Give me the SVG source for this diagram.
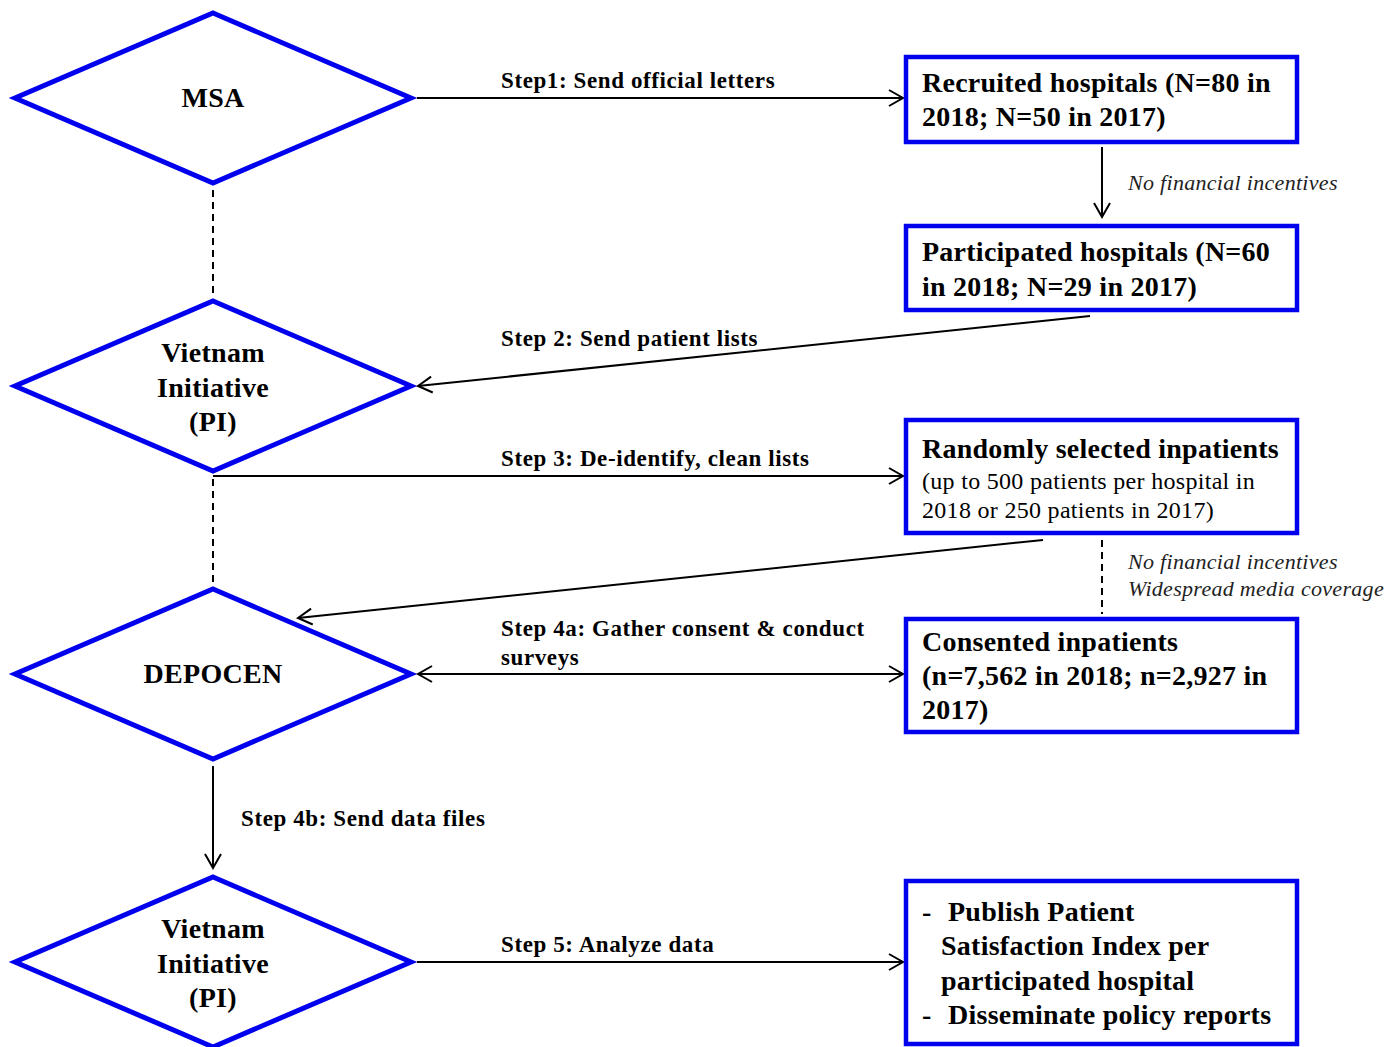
<svg xmlns="http://www.w3.org/2000/svg" width="1400" height="1047" viewBox="0 0 1400 1047">
<style>
.dia{fill:#fff;stroke:#0000ee;stroke-width:5;stroke-linejoin:miter}
.box{fill:#fff;stroke:#0000ee;stroke-width:4.5}
.t{font-family:"Liberation Serif","Times New Roman",serif;font-weight:bold;fill:#000}
.nt{font-size:28px;letter-spacing:0.25px}
.dt{font-size:28px;letter-spacing:0.3px;text-anchor:middle}
.st{font-size:23px;letter-spacing:0.6px}
.rg{font-family:"Liberation Serif","Times New Roman",serif;font-size:24px;letter-spacing:0.3px;fill:#000}
.it{font-family:"Liberation Serif","Times New Roman",serif;font-style:italic;font-size:22px;letter-spacing:0.3px;fill:#222}
.ln{stroke:#000;stroke-width:2;fill:none}
.ds{stroke:#000;stroke-width:2;fill:none;stroke-dasharray:7,5}
</style>
<defs>
<marker id="ah" viewBox="0 0 20 20" refX="18" refY="10" markerWidth="20" markerHeight="20" markerUnits="userSpaceOnUse" orient="auto-start-reverse">
<path d="M4,2 L18,10 L4,18" fill="none" stroke="#000" stroke-width="2"/>
</marker>
</defs>
<rect width="1400" height="1047" fill="#fff"/>
<g id="connectors">
<line class="ln" x1="417" y1="98" x2="903" y2="98" marker-end="url(#ah)"/>
<line class="ln" x1="1102" y1="147" x2="1102" y2="217" marker-end="url(#ah)"/>
<line class="ds" x1="213" y1="190" x2="213" y2="298"/>
<line class="ln" x1="1090" y1="316" x2="418" y2="386" marker-end="url(#ah)"/>
<line class="ln" x1="213" y1="476" x2="903" y2="476" marker-end="url(#ah)"/>
<line class="ds" x1="213" y1="479" x2="213" y2="585"/>
<line class="ln" x1="1043" y1="540" x2="298" y2="618" marker-end="url(#ah)"/>
<line class="ds" x1="1102" y1="540" x2="1102" y2="614"/>
<line class="ln" x1="418" y1="674" x2="903" y2="674" marker-start="url(#ah)" marker-end="url(#ah)"/>
<line class="ln" x1="213" y1="766" x2="213" y2="868" marker-end="url(#ah)"/>
<line class="ln" x1="417" y1="962" x2="903" y2="962" marker-end="url(#ah)"/>
<text class="t st" x="501" y="88">Step1: Send official letters</text>
<text class="it" x="1128" y="190">No financial incentives</text>
<text class="t st" x="501" y="346">Step 2: Send patient lists</text>
<text class="t st" x="501" y="466">Step 3: De-identify, clean lists</text>
<text class="it" x="1128" y="569">No financial incentives</text>
<text class="it" x="1128" y="596">Widespread media coverage</text>
<text class="t st" x="501" y="636">Step 4a: Gather consent &amp; conduct</text>
<text class="t st" x="501" y="665">surveys</text>
<text class="t st" x="241" y="826">Step 4b: Send data files</text>
<text class="t st" x="501" y="952">Step 5: Analyze data</text>
</g>
<g id="msa">
<polygon class="dia" points="213,13 411,98 213,183 15,98"/>
<text class="t dt" x="213" y="107">MSA</text>
</g>
<g id="vi1">
<polygon class="dia" points="213,301 411,386 213,471 15,386"/>
<text class="t dt" x="213" y="362">Vietnam</text>
<text class="t dt" x="213" y="397">Initiative</text>
<text class="t dt" x="213" y="431">(PI)</text>
</g>
<g id="depocen">
<polygon class="dia" points="213,589 411,674 213,759 15,674"/>
<text class="t dt" x="213" y="683">DEPOCEN</text>
</g>
<g id="vi2">
<polygon class="dia" points="213,877 411,962 213,1047 15,962"/>
<text class="t dt" x="213" y="938">Vietnam</text>
<text class="t dt" x="213" y="973">Initiative</text>
<text class="t dt" x="213" y="1007">(PI)</text>
</g>
<g id="recruited">
<rect class="box" x="906" y="57" width="391" height="85"/>
<text class="t nt" x="922" y="92">Recruited hospitals (N=80 in</text>
<text class="t nt" x="922" y="126">2018; N=50 in 2017)</text>
</g>
<g id="participated">
<rect class="box" x="906" y="226" width="391" height="84"/>
<text class="t nt" x="922" y="261">Participated hospitals (N=60</text>
<text class="t nt" x="922" y="296">in 2018; N=29 in 2017)</text>
</g>
<g id="randomly">
<rect class="box" x="906" y="420" width="391" height="113"/>
<text class="t nt" x="922" y="458">Randomly selected inpatients</text>
<text class="rg" x="922" y="489">(up to 500 patients per hospital in</text>
<text class="rg" x="922" y="518">2018 or 250 patients in 2017)</text>
</g>
<g id="consented">
<rect class="box" x="906" y="619" width="391" height="113"/>
<text class="t nt" x="922" y="651">Consented inpatients</text>
<text class="t nt" x="922" y="685">(n=7,562 in 2018; n=2,927 in</text>
<text class="t nt" x="922" y="719">2017)</text>
</g>
<g id="publish">
<rect class="box" x="906" y="881" width="391" height="163"/>
<text class="t nt" x="922" y="921">-</text>
<text class="t nt" x="948" y="921">Publish Patient</text>
<text class="t nt" x="941" y="955">Satisfaction Index per</text>
<text class="t nt" x="941" y="990">participated hospital</text>
<text class="t nt" x="922" y="1024">-</text>
<text class="t nt" x="948" y="1024">Disseminate policy reports</text>
</g>
</svg>
